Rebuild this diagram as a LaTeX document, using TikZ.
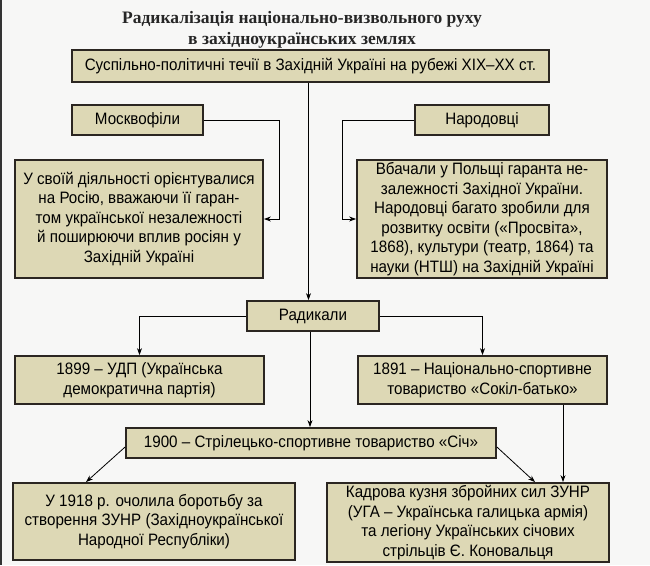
\documentclass[tikz,border=0pt]{standalone}
\usepackage{fontspec}
\setmainfont{Liberation Sans}[FakeStretch=0.92]
\newfontfamily\titlefont{Liberation Serif}
\usetikzlibrary{arrows.meta,calc}
\definecolor{boxfill}{HTML}{DDD8B5}
\definecolor{boxline}{HTML}{2B2621}
\definecolor{paper}{HTML}{F7F7F6}

\begin{document}
\begin{tikzpicture}[x=1pt, y=-1pt,
  box/.style={rectangle, draw=boxline, line width=1.8pt, fill=boxfill, align=center, inner sep=2pt,
    font=\fontsize{16.5}{19.5}\selectfont},
  arr/.style={-{Stealth[length=7pt, width=5pt]}, line width=0.8pt, black}
]
  % page
  \fill[paper] (0,0) rectangle (650,565);
  \useasboundingbox (0,0) rectangle (650,565);
  \draw[line width=1.5pt, black!80] (0.75,0) -- (0.75,565);

  \node[align=center, font=\titlefont\bfseries\fontsize{17.5}{20.5}\selectfont, text=black!85] (title) at (302,30)
    {Радикалізація національно-визвольного руху\\в західноукраїнських землях};

  \node[box, minimum width=477pt, minimum height=32pt] (top) at (310.5,66)
    {Суспільно-політичні течії в Західній Україні на рубежі XIX–XX ст.};

  \node[box, minimum width=131pt, minimum height=30pt] (moskv) at (137.5,120) {Москвофіли};
  \node[box, minimum width=134pt, minimum height=30pt] (narod) at (482,120) {Народовці};

  \node[box, minimum width=248pt, minimum height=118pt] (moskvdesc) at (139,219)
    {У своїй діяльності орієнтувалися\\на Росію, вважаючи її гаран-\\том української незалежності\\й поширюючи вплив росіян у\\Західній Україні};
  \node[box, minimum width=250pt, minimum height=118pt] (naroddesc) at (482,219)
    {Вбачали у Польщі гаранта не-\\залежності Західної України.\\Народовці багато зробили для\\розвитку освіти («Просвіта»,\\1868), культури (театр, 1864) та\\науки (НТШ) на Західній Україні};

  \node[box, minimum width=132pt, minimum height=30pt] (radyk) at (313,316) {Радикали};

  \node[box, minimum width=249pt, minimum height=48pt] (udp) at (139.5,380)
    {1899 – УДП (Українська\\демократична партія)};
  \node[box, minimum width=249pt, minimum height=48pt] (sokil) at (482.5,380)
    {1891 – Національно-спортивне\\товариство «Сокіл-батько»};

  \node[box, minimum width=370pt, minimum height=30pt] (sich) at (311,443)
    {1900 – Стрілецько-спортивне товариство «Січ»};

  \node[box, minimum width=282pt, minimum height=77pt] (zunr) at (154,521.5)
    {У 1918 р. очолила боротьбу за\\створення ЗУНР (Західноукраїнської\\Народної Республіки)};
  \node[box, minimum width=282pt, minimum height=79pt] (kuznia) at (468,522.5)
    {Кадрова кузня збройних сил ЗУНР\\(УГА – Українська галицька армія)\\та легіону Українських січових\\стрільців Є. Коновальця};

  \draw[arr] ([xshift=-2pt]top.south) -- ([xshift=-2pt]top.south |- radyk.north);
  \draw[arr] (moskv.east) -- ++(75,0) |- (moskvdesc.east);
  \draw[arr] (narod.west) -- ++(-72,0) |- (naroddesc.west);
  \draw[arr] (radyk.west) -| (udp.north);
  \draw[arr] (radyk.east) -| (sokil.north);
  \draw[arr] ([xshift=-3pt]radyk.south) -- ([xshift=-3pt]radyk.south |- sich.north);
  \draw[arr] ([yshift=-4pt]sich.west) -- ([xshift=-68pt]zunr.north);
  \draw[arr] ([yshift=-4pt]sich.east) -- ([xshift=67pt]kuznia.north);
  \draw[arr] ([xshift=80.5pt]sokil.south) -- ([xshift=80.5pt]sokil.south |- kuznia.north);
\end{tikzpicture}
\end{document}
